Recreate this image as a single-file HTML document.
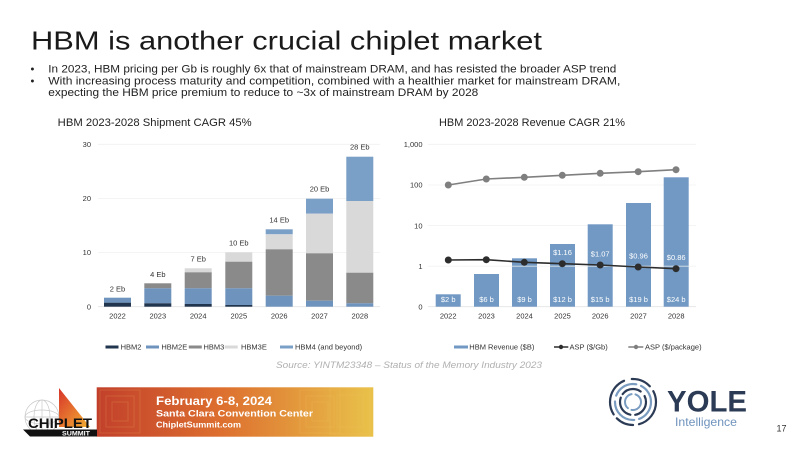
<!DOCTYPE html>
<html>
<head>
<meta charset="utf-8">
<style>
  html,body{margin:0;padding:0;background:#fff;}
  body{width:800px;height:450px;overflow:hidden;}
  svg{display:block;font-family:"Liberation Sans",sans-serif;}
</style>
</head>
<body>
<svg width="800" height="450" viewBox="0 0 800 450" xmlns="http://www.w3.org/2000/svg">
  <defs>
    <linearGradient id="ban" x1="0" y1="0" x2="1" y2="0">
      <stop offset="0" stop-color="#c2402b"/>
      <stop offset="0.45" stop-color="#dd6f2f"/>
      <stop offset="1" stop-color="#e9c24a"/>
    </linearGradient>
    <linearGradient id="tri" x1="0" y1="0" x2="1" y2="1">
      <stop offset="0" stop-color="#d8342a"/>
      <stop offset="1" stop-color="#f2b233"/>
    </linearGradient>
  </defs>

  <!-- Title -->
  <text x="31" y="49.3" font-size="26" fill="#1a1a1a" textLength="511" lengthAdjust="spacingAndGlyphs">HBM is another crucial chiplet market</text>

  <!-- Bullets -->
  <g font-size="11" fill="#222">
    <text x="30.5" y="72.7">•</text>
    <text x="48.3" y="72.7" textLength="568" lengthAdjust="spacingAndGlyphs">In 2023, HBM pricing per Gb is roughly 6x that of mainstream DRAM, and has resisted the broader ASP trend</text>
    <text x="30.5" y="84.3">•</text>
    <text x="48.3" y="84.3" textLength="572" lengthAdjust="spacingAndGlyphs">With increasing process maturity and competition, combined with a healthier market for mainstream DRAM,</text>
    <text x="48.3" y="96" textLength="430" lengthAdjust="spacingAndGlyphs">expecting the HBM price premium to reduce to ~3x of mainstream DRAM by 2028</text>
  </g>

  <!-- Subtitles -->
  <text x="57.7" y="126" font-size="11" fill="#222" textLength="194" lengthAdjust="spacingAndGlyphs">HBM 2023-2028 Shipment CAGR 45%</text>
  <text x="439" y="126" font-size="11" fill="#222" textLength="186" lengthAdjust="spacingAndGlyphs">HBM 2023-2028 Revenue CAGR 21%</text>

  <!-- LEFT CHART -->
  <g stroke="#f0f0f0" stroke-width="0.8">
    <line x1="98" y1="144.3" x2="380" y2="144.3"/>
    <line x1="98" y1="198.4" x2="380" y2="198.4"/>
    <line x1="98" y1="252.5" x2="380" y2="252.5"/>
  </g>
  <line x1="98" y1="306.7" x2="380" y2="306.7" stroke="#e4e4e4" stroke-width="0.8"/>
  <g font-size="7.5" fill="#333" text-anchor="end">
    <text x="91" y="147">30</text>
    <text x="91" y="201">20</text>
    <text x="91" y="255">10</text>
    <text x="91" y="309.4">0</text>
  </g>
  <!-- bars -->
  <!-- 2022 -->
  <rect x="104" y="297.7" width="27" height="5" fill="#6e93bd"/>
  <rect x="104" y="302.7" width="27" height="4" fill="#22354f"/>
  <!-- 2023 -->
  <rect x="144.3" y="283.3" width="27" height="5" fill="#8a8a8a"/>
  <rect x="144.3" y="288.3" width="27" height="15" fill="#6e93bd"/>
  <rect x="144.3" y="303.3" width="27" height="3.4" fill="#22354f"/>
  <!-- 2024 -->
  <rect x="184.7" y="268.3" width="27" height="4" fill="#d9d9d9"/>
  <rect x="184.7" y="272.3" width="27" height="16" fill="#8a8a8a"/>
  <rect x="184.7" y="288.3" width="27" height="15.7" fill="#6e93bd"/>
  <rect x="184.7" y="304" width="27" height="2.7" fill="#22354f"/>
  <!-- 2025 -->
  <rect x="225.3" y="252.3" width="27" height="9.4" fill="#d9d9d9"/>
  <rect x="225.3" y="261.7" width="27" height="26.6" fill="#8a8a8a"/>
  <rect x="225.3" y="288.3" width="27" height="16.7" fill="#6e93bd"/>
  <rect x="225.3" y="305" width="27" height="1.7" fill="#22354f"/>
  <!-- 2026 -->
  <rect x="265.7" y="229.3" width="27" height="5" fill="#7ba0c8"/>
  <rect x="265.7" y="234.3" width="27" height="15" fill="#d9d9d9"/>
  <rect x="265.7" y="249.3" width="27" height="46.4" fill="#8a8a8a"/>
  <rect x="265.7" y="295.7" width="27" height="11" fill="#6e93bd"/>
  <!-- 2027 -->
  <rect x="306" y="198.7" width="27" height="15" fill="#7ba0c8"/>
  <rect x="306" y="213.7" width="27" height="39.6" fill="#d9d9d9"/>
  <rect x="306" y="253.3" width="27" height="47.4" fill="#8a8a8a"/>
  <rect x="306" y="300.7" width="27" height="6" fill="#6e93bd"/>
  <!-- 2028 -->
  <rect x="346.3" y="156.7" width="27" height="44.3" fill="#7ba0c8"/>
  <rect x="346.3" y="201" width="27" height="71.7" fill="#d9d9d9"/>
  <rect x="346.3" y="272.7" width="27" height="30.6" fill="#8a8a8a"/>
  <rect x="346.3" y="303.3" width="27" height="3.4" fill="#6e93bd"/>
  <!-- data labels -->
  <g font-size="7.5" fill="#333" text-anchor="middle">
    <text x="117.5" y="291.4">2 Eb</text>
    <text x="157.8" y="277">4 Eb</text>
    <text x="198.2" y="261.7">7 Eb</text>
    <text x="238.8" y="245.7">10 Eb</text>
    <text x="279.2" y="222.7">14 Eb</text>
    <text x="319.5" y="191.7">20 Eb</text>
    <text x="359.8" y="149.4">28 Eb</text>
  </g>
  <g font-size="7.5" fill="#333" text-anchor="middle">
    <text x="117.5" y="318.7">2022</text>
    <text x="157.8" y="318.7">2023</text>
    <text x="198.2" y="318.7">2024</text>
    <text x="238.8" y="318.7">2025</text>
    <text x="279.2" y="318.7">2026</text>
    <text x="319.5" y="318.7">2027</text>
    <text x="359.8" y="318.7">2028</text>
  </g>
  <!-- left legend -->
  <g font-size="7.5" fill="#333">
    <rect x="105.5" y="345.5" width="13" height="3" fill="#22354f"/>
    <text x="120.6" y="349.5">HBM2</text>
    <rect x="146" y="345.5" width="13" height="3" fill="#6e93bd"/>
    <text x="161.4" y="349.5">HBM2E</text>
    <rect x="188.8" y="345.5" width="13" height="3" fill="#8a8a8a"/>
    <text x="203.5" y="349.5">HBM3</text>
    <rect x="224.7" y="345.5" width="13" height="3" fill="#d9d9d9"/>
    <text x="241" y="349.5">HBM3E</text>
    <rect x="280" y="345.5" width="13" height="3" fill="#7ba0c8"/>
    <text x="295" y="349.5">HBM4 (and beyond)</text>
  </g>

  <!-- RIGHT CHART -->
  <g stroke="#f0f0f0" stroke-width="0.8">
    <line x1="428" y1="144.3" x2="696" y2="144.3"/>
    <line x1="428" y1="185" x2="696" y2="185"/>
    <line x1="428" y1="225.6" x2="696" y2="225.6"/>
  </g>
  <line x1="428" y1="306.7" x2="696" y2="306.7" stroke="#e4e4e4" stroke-width="0.8"/>
  <g font-size="7.5" fill="#333" text-anchor="end">
    <text x="422.5" y="147">1,000</text>
    <text x="422.5" y="187.7">100</text>
    <text x="422.5" y="228.4">10</text>
    <text x="422.5" y="268.9">1</text>
    <text x="422.5" y="309.4">0</text>
  </g>
  <g fill="#7199c4">
    <rect x="435.7" y="294.3" width="25" height="12.4"/>
    <rect x="474" y="274" width="25" height="32.7"/>
    <rect x="512" y="258.3" width="25" height="48.4"/>
    <rect x="550" y="244" width="25" height="62.7"/>
    <rect x="587.7" y="224.3" width="25" height="82.4"/>
    <rect x="626" y="203" width="25" height="103.7"/>
    <rect x="663.7" y="177.3" width="25" height="129.4"/>
  </g>
  <line x1="428" y1="266.2" x2="696" y2="266.2" stroke="#f0f0f0" stroke-width="0.8" opacity="0.85"/>
  <g font-size="7.5" fill="#fff" text-anchor="middle">
    <text x="448.2" y="302">$2 b</text>
    <text x="486.5" y="302">$6 b</text>
    <text x="524.5" y="302">$9 b</text>
    <text x="562.5" y="302">$12 b</text>
    <text x="600.2" y="302">$15 b</text>
    <text x="638.5" y="302">$19 b</text>
    <text x="676.2" y="302">$24 b</text>
    <text x="562.5" y="255">$1.16</text>
    <text x="600.2" y="256.4">$1.07</text>
    <text x="638.5" y="258.7">$0.96</text>
    <text x="676.2" y="260">$0.86</text>
  </g>
  <!-- ASP $/package -->
  <polyline points="448.3,185 486.3,179 524.3,177.3 562.3,175.3 600.2,173.3 638.2,171.7 676,169.7" fill="none" stroke="#7f7f7f" stroke-width="1.6"/>
  <g fill="#7f7f7f">
    <circle cx="448.3" cy="185" r="3.5"/>
    <circle cx="486.3" cy="179" r="3.5"/>
    <circle cx="524.3" cy="177.3" r="3.5"/>
    <circle cx="562.3" cy="175.3" r="3.5"/>
    <circle cx="600.2" cy="173.3" r="3.5"/>
    <circle cx="638.2" cy="171.7" r="3.5"/>
    <circle cx="676" cy="169.7" r="3.5"/>
  </g>
  <!-- ASP $/Gb -->
  <polyline points="448.3,260 486.3,259.7 524.3,262.3 562.3,263.7 600.2,265 638.2,267 676,268.7" fill="none" stroke="#2d2d2d" stroke-width="1.6"/>
  <g fill="#2d2d2d">
    <circle cx="448.3" cy="260" r="3.5"/>
    <circle cx="486.3" cy="259.7" r="3.5"/>
    <circle cx="524.3" cy="262.3" r="3.5"/>
    <circle cx="562.3" cy="263.7" r="3.5"/>
    <circle cx="600.2" cy="265" r="3.5"/>
    <circle cx="638.2" cy="267" r="3.5"/>
    <circle cx="676" cy="268.7" r="3.5"/>
  </g>
  <g font-size="7.5" fill="#333" text-anchor="middle">
    <text x="448.2" y="318.7">2022</text>
    <text x="486.5" y="318.7">2023</text>
    <text x="524.5" y="318.7">2024</text>
    <text x="562.5" y="318.7">2025</text>
    <text x="600.2" y="318.7">2026</text>
    <text x="638.5" y="318.7">2027</text>
    <text x="676.2" y="318.7">2028</text>
  </g>
  <!-- right legend -->
  <g font-size="7.5" fill="#333">
    <rect x="454" y="345.5" width="14" height="3" fill="#7199c4"/>
    <text x="469.3" y="349.5">HBM Revenue ($B)</text>
    <line x1="554" y1="347" x2="568.3" y2="347" stroke="#2d2d2d" stroke-width="1.5"/>
    <circle cx="561" cy="347" r="2.2" fill="#2d2d2d"/>
    <text x="569.5" y="349.5">ASP ($/Gb)</text>
    <line x1="628.3" y1="347" x2="643.3" y2="347" stroke="#7f7f7f" stroke-width="1.5"/>
    <circle cx="636" cy="347" r="2.2" fill="#7f7f7f"/>
    <text x="645" y="349.5">ASP ($/package)</text>
  </g>

  <!-- Source -->
  <text x="276" y="368" font-size="9.5" font-style="italic" fill="#b0b0b0" textLength="266" lengthAdjust="spacingAndGlyphs">Source: YINTM23348 – Status of the Memory Industry 2023</text>

  <!-- Chiplet Summit banner -->
  <rect x="96.7" y="387.3" width="276.6" height="49.4" fill="url(#ban)"/>
  <g fill="none" stroke="#f6c66a" stroke-opacity="0.18" stroke-width="1">
    <rect x="100" y="390" width="40" height="43"/>
    <rect x="106" y="396" width="28" height="31"/>
    <rect x="112" y="402" width="16" height="19"/>
    <rect x="300" y="390" width="40" height="43"/>
    <rect x="306" y="396" width="28" height="31"/>
    <rect x="312" y="402" width="16" height="19"/>
    <rect x="330" y="388" width="40" height="46"/>
    <rect x="337" y="395" width="26" height="32"/>
  </g>
  <text x="156" y="405" font-size="11.5" font-weight="bold" fill="#fff" textLength="116" lengthAdjust="spacingAndGlyphs">February 6-8, 2024</text>
  <text x="156" y="416.5" font-size="9" font-weight="bold" fill="#fff" textLength="157" lengthAdjust="spacingAndGlyphs">Santa Clara Convention Center</text>
  <text x="156" y="427.5" font-size="8" font-weight="bold" fill="#fff" textLength="85" lengthAdjust="spacingAndGlyphs">ChipletSummit.com</text>

  <!-- Chiplet logo -->
  <g fill="none" stroke="#c8c8c8" stroke-width="0.7">
    <circle cx="42" cy="417" r="17"/>
    <ellipse cx="42" cy="417" rx="8" ry="17"/>
    <ellipse cx="42" cy="417" rx="17" ry="7"/>
    <line x1="25" y1="417" x2="59" y2="417"/>
    <line x1="42" y1="400" x2="42" y2="434"/>
  </g>
  <polygon points="59,388 90,427 59,427" fill="url(#tri)"/>
  <text x="28" y="428" font-size="14" font-weight="bold" fill="#111" textLength="64" lengthAdjust="spacingAndGlyphs">CHIPLET</text>
  <polygon points="23,429.5 97,429.5 97,436.5 30,436.5" fill="#111"/>
  <text x="62" y="435.5" font-size="6.5" font-weight="bold" fill="#fff" textLength="28" lengthAdjust="spacingAndGlyphs">SUMMIT</text>

  <!-- Yole logo -->
  <g fill="none" stroke-linecap="round">
    <circle cx="633" cy="402" r="23" stroke="#2b3a55" stroke-width="2.2" stroke-dasharray="30 6 18 5 40 8 20 6"/>
    <circle cx="633" cy="402" r="18" stroke="#7a9cc0" stroke-width="2.2" stroke-dasharray="22 5 30 6 25 5"/>
    <circle cx="633" cy="402" r="13" stroke="#2b3a55" stroke-width="2.2" stroke-dasharray="18 5 22 4 20 6"/>
    <circle cx="633" cy="402" r="8" stroke="#7a9cc0" stroke-width="2" stroke-dasharray="14 4 18 4"/>
  </g>
  <text x="667" y="411.7" font-size="30" font-weight="bold" fill="#2b3a55" textLength="80" lengthAdjust="spacingAndGlyphs">YOLE</text>
  <text x="675" y="426" font-size="12" fill="#6f93bd" textLength="62" lengthAdjust="spacingAndGlyphs">Intelligence</text>
  <text x="776.5" y="431.5" font-size="9" fill="#333">17</text>
</svg>
</body>
</html>
